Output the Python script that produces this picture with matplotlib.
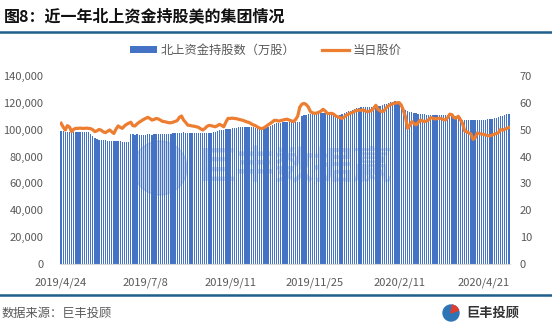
import matplotlib
matplotlib.use("Agg")
import matplotlib.pyplot as plt
from matplotlib.patches import Patch, Wedge
from matplotlib.lines import Line2D
from matplotlib.ticker import FuncFormatter, MultipleLocator

plt.rcParams['font.family'] = ['Noto Sans CJK SC', 'DejaVu Sans']

title = "图8：近一年北上资金持股美的集团情况"
bar_label = "北上资金持股数（万股）"
line_label = "当日股价"
source = "数据来源：巨丰投顾"
brand = "巨丰投顾"
watermark = "巨丰数据赢"

tick_labels = ["2019/4/24", "2019/7/8", "2019/9/11", "2019/11/25", "2020/2/11", "2020/4/21"]
tick_index = [0, 40, 80, 120, 160, 200]

# 北上资金持股数 (values in thousands of 万股)
holdings_k = [
    99.0, 98.8, 98.6, 98.5, 98.5, 98.4, 98.5, 98.6, 98.5, 98.4,
    98.5, 98.4, 98.3, 98.0, 97.0, 95.5, 94.0, 93.0, 92.5, 92.3,
    92.2, 92.0, 91.8, 91.7, 91.6, 91.5, 91.5, 91.4, 91.3, 91.2,
    91.0, 90.8, 90.5, 96.5, 96.5, 96.4, 96.5, 96.4, 96.3, 96.4,
    96.4, 96.5, 96.5, 96.4, 96.5, 96.6, 96.5, 96.5, 96.6, 96.7,
    96.8, 96.9, 97.0, 97.2, 97.3, 97.5, 97.6, 97.8, 98.0, 97.5,
    97.4, 97.4, 97.5, 97.5, 97.4, 97.3, 97.2, 97.2, 97.3, 97.5,
    97.6, 97.8, 98.0, 98.5, 99.0, 99.5, 99.8, 100.0, 100.3, 100.5,
    100.8, 101.0, 101.3, 101.5, 101.7, 101.8, 102.0, 102.2, 102.2, 102.1,
    101.9, 101.7, 101.5, 101.3, 101.0, 101.0, 101.2, 101.5, 102.0, 102.8,
    103.5, 104.2, 104.7, 105.0, 105.3, 105.5, 105.8, 106.0, 105.8, 105.6,
    105.4, 105.5, 105.6, 105.8, 110.5, 111.0, 111.2, 111.4, 111.6, 111.7,
    111.8, 112.0, 112.2, 112.3, 112.4, 112.3, 112.0, 111.5, 111.0, 110.8,
    110.5, 110.3, 110.6, 111.5, 112.4, 113.0, 113.8, 114.3, 114.7, 115.5,
    116.0, 116.4, 116.6, 116.6, 116.8, 117.0, 117.0, 117.2, 117.3, 117.2,
    117.5, 118.0, 118.5, 119.0, 119.5, 120.0, 120.5, 120.9, 121.2, 121.0,
    120.5, 118.5, 116.0, 115.0, 114.0, 113.4, 113.0, 112.5, 112.2, 112.0,
    112.0, 111.8, 111.5, 111.3, 111.2, 111.0, 111.0, 111.0, 110.9, 111.0,
    111.0, 110.9, 110.8, 110.8, 110.7, 110.6, 110.5, 110.3, 110.0, 109.7,
    107.5, 107.2, 107.2, 107.1, 107.2, 107.2, 107.0, 107.1, 107.2, 107.3,
    107.4, 107.6, 107.8, 108.0, 108.3, 108.6, 109.0, 109.5, 110.0, 110.5,
    111.0, 111.5, 111.7,
]
holdings = [v * 1000 for v in holdings_k]

price = [
    52.4, 51.0, 49.9, 51.5, 51.0, 49.3, 50.2, 50.5, 50.5, 50.6,
    50.5, 50.5, 50.6, 50.5, 50.4, 50.0, 49.3, 49.6, 50.1, 49.8,
    49.2, 48.9, 49.4, 49.9, 49.2, 48.6, 50.2, 51.4, 50.9, 50.5,
    51.4, 52.0, 52.4, 52.8, 51.5, 51.4, 52.2, 52.8, 53.3, 53.8,
    54.2, 54.6, 54.2, 53.6, 53.8, 54.2, 54.0, 53.6, 53.1, 53.0,
    52.8, 52.6, 52.6, 52.8, 53.1, 53.4, 54.6, 55.1, 53.6, 52.7,
    51.7, 51.6, 51.4, 51.3, 51.1, 50.9, 50.4, 49.9, 50.4, 51.2,
    51.6, 51.5, 51.3, 51.1, 51.5, 52.0, 51.6, 51.1, 52.8, 54.2,
    54.2, 54.3, 54.2, 54.1, 53.9, 53.7, 53.5, 53.2, 52.9, 52.7,
    52.2, 51.8, 51.5, 51.0, 50.6, 50.4, 50.7, 51.2, 51.8, 52.3,
    52.9, 53.5, 53.5, 53.2, 53.4, 53.6, 53.8, 53.9, 53.6, 53.3,
    53.0, 53.8, 55.0, 58.4, 59.5, 59.8, 59.4, 58.5, 56.8, 56.3,
    56.1, 56.2, 56.5, 56.9, 57.6, 57.0, 56.1, 56.0, 56.1, 55.8,
    55.1, 54.8, 54.5, 54.2, 54.7, 55.4, 55.8, 56.2, 56.4, 56.9,
    57.2, 57.3, 57.2, 57.4, 57.0, 56.7, 56.9, 57.2, 58.0, 59.1,
    57.6, 57.0, 56.7, 57.2, 58.2, 58.9, 59.3, 59.7, 59.9, 60.0,
    60.1, 59.2, 57.3, 54.8, 50.5, 51.5, 53.0, 52.4, 51.8, 52.6,
    53.6, 53.3, 53.0, 53.2, 53.7, 54.5, 54.3, 54.0, 54.2, 54.3,
    54.1, 53.8, 53.6, 54.5, 55.8, 55.6, 54.5, 54.3, 55.0, 53.8,
    52.4, 49.6, 49.2, 48.8, 48.4, 46.4, 47.0, 48.8, 48.5, 48.4,
    48.3, 48.0, 47.8, 47.7, 48.0, 48.3, 48.6, 48.9, 50.1, 49.8,
    50.2, 50.5, 50.8,
]

BLUE = "#4472C4"
ORANGE = "#ED7D31"
GREY = "#595959"
DARK = "#1F5F8B"

W, H = 552, 331
fig = plt.figure(figsize=(W / 100, H / 100), dpi=100)
fig.patch.set_facecolor("white")

ax = fig.add_axes([60 / W, 1 - 264 / H, 450 / W, 188 / H])
x = list(range(len(holdings)))
ax.bar(x, holdings, width=0.62, color=BLUE, linewidth=0, zorder=2)
ax.set_xlim(-0.5, len(holdings) - 0.5)
ax.set_ylim(0, 140000)
ax.yaxis.set_major_locator(MultipleLocator(20000))
ax.yaxis.set_major_formatter(FuncFormatter(lambda v, p: f"{int(v):,}"))

ax2 = ax.twinx()
ax2.plot(x, price, color=ORANGE, linewidth=2.3, zorder=5, solid_joinstyle="round")
ax2.set_ylim(0, 70)
ax2.yaxis.set_major_locator(MultipleLocator(10))

for a in (ax, ax2):
    for s in a.spines.values():
        s.set_visible(False)
    a.tick_params(length=0, labelsize=8, labelcolor=GREY)
ax.spines["bottom"].set_visible(True)
ax.spines["bottom"].set_color("#D9D9D9")
ax.spines["bottom"].set_linewidth(0.8)
ax.set_xticks(tick_index)
ax.set_xticklabels(tick_labels)
ax.tick_params(axis="x", pad=10)
ax.tick_params(axis="y", pad=12)
ax2.tick_params(axis="y", pad=7)

# watermark
fig.text(198 / W, 1 - 168 / H, watermark, fontsize=28, color=BLUE, alpha=0.28,
         ha="left", va="center", fontweight="bold", zorder=10)
circ = plt.Circle((160, H - 168), 27, transform=None, color=BLUE, alpha=0.25, zorder=10)
fig.patches.append(circ)

# title and lines
fig.text(4 / W, 1 - 16 / H, title, fontsize=11.5, fontweight="bold", color="#111111",
         ha="left", va="center")
fig.add_artist(Line2D([0, 1], [1 - 32 / H, 1 - 32 / H], transform=fig.transFigure,
                      color=DARK, linewidth=1.8))
fig.add_artist(Line2D([0, 1], [1 - 295 / H, 1 - 295 / H], transform=fig.transFigure,
                      color=DARK, linewidth=1.8))

# legend
handles = [Patch(facecolor=BLUE, edgecolor="none", label=bar_label),
           Line2D([0], [0], color=ORANGE, linewidth=2.3, label=line_label)]
fig.legend(handles=handles, loc="center", bbox_to_anchor=(266 / W, 1 - 50 / H), ncol=2,
           frameon=False, fontsize=8.8, handlelength=2.2, handleheight=0.5,
           columnspacing=2.2, handletextpad=0.3, labelcolor=GREY)

# footer
fig.text(2 / W, 1 - 313 / H, source, fontsize=8.8, color=GREY, ha="left", va="center")
fig.text(466 / W, 1 - 313 / H, brand, fontsize=9.5, fontweight="bold", color="#333333",
         ha="left", va="center")
logo = plt.Circle((451, H - 313), 8, transform=None, color="#2E75B6", zorder=10)
fig.patches.append(logo)
logo2 = Wedge((451, H - 313), 8, 20, 80, transform=None, color="#E03C31", zorder=11)
fig.patches.append(logo2)

fig.savefig("out.png", dpi=100, facecolor="white")
